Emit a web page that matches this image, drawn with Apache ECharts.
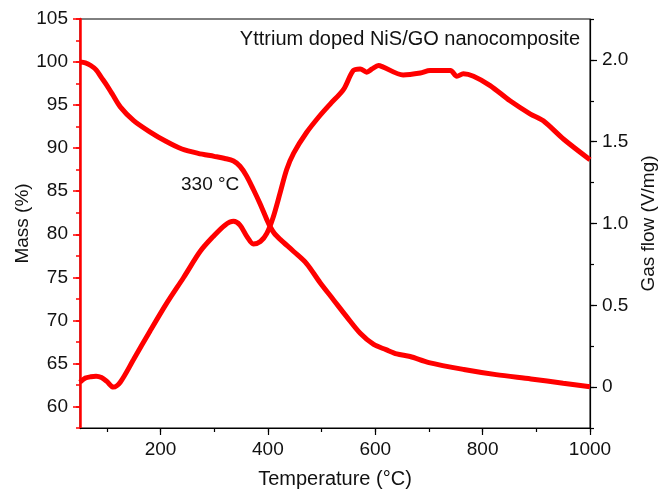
<!DOCTYPE html>
<html>
<head>
<meta charset="utf-8">
<script src="https://cdn.jsdelivr.net/npm/echarts@6/dist/echarts.min.js"></script>
<style>
  html, body { margin: 0; padding: 0; background: #fff; }
  #chart { width: 658px; height: 490px; }
</style>
</head>
<body>
<div id="chart"></div>
<script>
// Chart Data
const massTemp = [50, 60, 70, 80, 90, 100, 110, 125, 150, 180, 210, 240, 270, 300, 320, 336, 348, 360, 373, 385, 398, 404, 412, 423, 448, 472, 497, 522, 547, 572, 597, 620, 640, 665, 700, 765, 825, 890, 950, 1000];
const massValue = [100.0, 99.9, 99.6, 99.1, 98.2, 97.3, 96.3, 94.8, 93.2, 91.9, 90.8, 89.9, 89.4, 89.05, 88.8, 88.5, 87.9, 86.8, 85.2, 83.6, 81.7, 80.9, 80.1, 79.4, 78.0, 76.6, 74.4, 72.4, 70.4, 68.5, 67.2, 66.6, 66.1, 65.8, 65.1, 64.3, 63.7, 63.2, 62.7, 62.3];

const gasTemp = [50, 60, 70, 80, 90, 100, 112, 125, 150, 180, 211, 243, 274, 298, 320, 336, 348, 361, 373, 386, 398, 410, 423, 435, 448, 472, 497, 516, 541, 559, 572, 584, 594, 606, 615, 652, 684, 702, 740, 752, 764, 783, 814, 851, 889, 913, 951, 1000];
const gasValue = [0.03, 0.055, 0.063, 0.066, 0.058, 0.035, 0.0, 0.03, 0.17, 0.34, 0.51, 0.67, 0.83, 0.92, 0.99, 1.013, 0.99, 0.92, 0.875, 0.89, 0.94, 1.04, 1.19, 1.33, 1.43, 1.556, 1.66, 1.73, 1.82, 1.935, 1.945, 1.925, 1.945, 1.966, 1.956, 1.908, 1.92, 1.935, 1.935, 1.90, 1.915, 1.90, 1.843, 1.75, 1.669, 1.628, 1.515, 1.39];

const tempMinorTicks = [100, 200, 300, 400, 500, 600, 700, 800, 900, 1000];
const tempLabels = [200, 400, 600, 800, 1000];
const massLabels = [60, 65, 70, 75, 80, 85, 90, 95, 100, 105];
const gasLabels = [0, 0.5, 1.0, 1.5, 2.0];

const RED = "#ff0000";
const INK = "#111";
const FONT = "Liberation Sans";

function zip(xs, ys) {
  return xs.map((x, i) => [x, ys[i]]);
}

const chart = echarts.init(document.getElementById("chart"), null, { renderer: "canvas" });

const option = {
  animation: false,
  textStyle: { fontFamily: FONT, color: INK },
  grid: {
    left: 80, right: 68, top: 19, bottom: 62,
    containLabel: false, outerBoundsMode: "none",
    show: true, borderColor: "#000", borderWidth: 1, backgroundColor: "transparent",
  },
  xAxis: [
    {
      type: "value", min: 50, max: 1000,
      name: "Temperature (°C)", nameLocation: "middle", nameGap: 41,
      nameTextStyle: { fontSize: 20, color: INK, fontFamily: FONT },
      axisLine: { show: true, onZero: false, lineStyle: { color: "#000", width: 1.2 } },
      axisTick: { show: true, customValues: tempMinorTicks, length: 4, lineStyle: { color: "#000", width: 1.2 } },
      axisLabel: {
        customValues: tempLabels, fontSize: 19, color: INK, margin: 12, fontFamily: FONT,
        formatter: (v) => String(v),
      },
      splitLine: { show: false },
    },
    {
      // longer ticks at labelled temperatures
      type: "value", min: 50, max: 1000, position: "bottom",
      axisLine: { show: false, onZero: false },
      axisTick: { show: true, customValues: tempLabels, length: 7, lineStyle: { color: "#000", width: 1.2 } },
      axisLabel: { show: false },
      splitLine: { show: false },
    },
  ],
  yAxis: [
    {
      type: "value", min: 57.5, max: 105, interval: 2.5, position: "left",
      name: "Mass (%)", nameLocation: "middle", nameGap: 48, nameRotate: 90, nameMoveOverlap: false,
      nameTextStyle: { fontSize: 19, color: INK, fontFamily: FONT },
      axisLine: { show: true, onZero: false, lineStyle: { color: RED, width: 2.5 } },
      axisTick: { show: true, length: 4, lineStyle: { color: RED, width: 1.5 } },
      axisLabel: {
        fontSize: 19, color: INK, margin: 12, fontFamily: FONT,
        formatter: (v) => (Math.abs(v % 5) < 1e-6 ? String(v) : ""),
      },
      splitLine: { show: false },
    },
    {
      type: "value", min: -0.25, max: 2.25, interval: 0.25, position: "right",
      name: "Gas flow (V/mg)", nameLocation: "middle", nameGap: 48, nameRotate: 90,
      nameTextStyle: { fontSize: 19, color: INK, fontFamily: FONT },
      axisLine: { show: true, onZero: false, lineStyle: { color: "#000", width: 1.2 } },
      axisTick: { show: true, length: 4, lineStyle: { color: "#000", width: 1.2 } },
      axisLabel: {
        fontSize: 19, color: INK, margin: 12, fontFamily: FONT,
        formatter: (v) => {
          if (Math.abs(v * 2 - Math.round(v * 2)) > 1e-6 || v < -1e-6) return "";
          return Math.abs(v) < 1e-6 ? "0" : v.toFixed(1);
        },
      },
      splitLine: { show: false },
    },
    {
      // longer ticks at labelled mass values
      type: "value", min: 57.5, max: 105, position: "left",
      axisLine: { show: false, onZero: false },
      axisTick: { show: true, customValues: massLabels, length: 7, lineStyle: { color: RED, width: 1.5 } },
      axisLabel: { show: false },
      splitLine: { show: false },
    },
    {
      // longer ticks at labelled gas flow values
      type: "value", min: -0.25, max: 2.25, position: "right",
      axisLine: { show: false, onZero: false },
      axisTick: { show: true, customValues: gasLabels, length: 7, lineStyle: { color: "#000", width: 1.2 } },
      axisLabel: { show: false },
      splitLine: { show: false },
    },
  ],
  graphic: [
    {
      type: "text", right: 78, top: 29,
      style: { text: "Yttrium doped NiS/GO nanocomposite", fill: INK, font: "20px " + FONT },
    },
    {
      type: "text", left: 181, top: 175,
      style: { text: "330 °C", fill: INK, font: "19px " + FONT },
    },
  ],
  series: [
    {
      name: "Mass", type: "line", xAxisIndex: 0, yAxisIndex: 0,
      data: zip(massTemp, massValue),
      smooth: 0.3, showSymbol: false, silent: true,
      lineStyle: { color: RED, width: 5 },
    },
    {
      name: "Gas flow", type: "line", xAxisIndex: 0, yAxisIndex: 1,
      data: zip(gasTemp, gasValue),
      smooth: 0.3, showSymbol: false, silent: true,
      lineStyle: { color: RED, width: 5 },
    },
  ],
};

chart.setOption(option);
</script>
</body>
</html>
